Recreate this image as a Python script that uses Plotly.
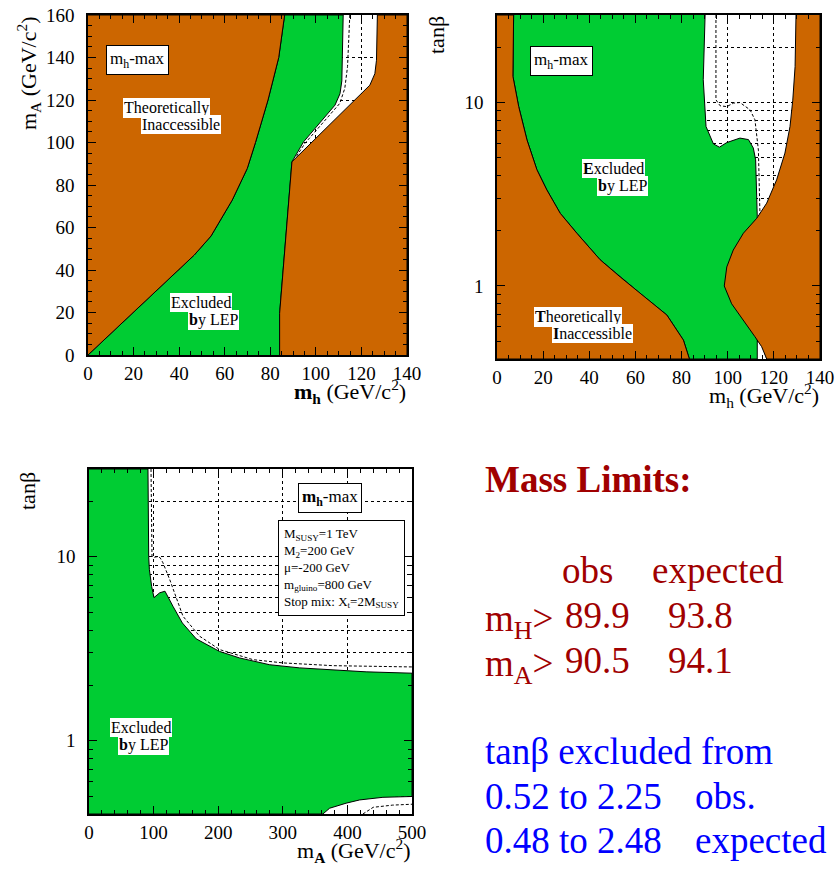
import plotly.graph_objects as go
import math

W, H = 839, 869
GREEN = "#00CC33"
BROWN = "#CC6600"
SERIF = "Liberation Serif"
RED = "#A00000"
BLUE = "#0000FF"

# ---------------- Panel 1: m_A vs m_h ----------------
p1_left_x = [0, 20, 40, 46.6, 54, 63.3, 69.9, 73.5, 79, 82.2, 83.7, 86.3]
p1_left_y = [0, 20, 40, 47, 56, 72.9, 87.8, 100, 120, 133, 140, 160]
p1_green_right_x = [112, 111.4, 110.6, 108.4, 94.6, 89.5, 84.1, 84.1]
p1_green_right_y = [160, 129, 123, 117.6, 100.3, 90.9, 19.6, 0]
p1_brown_right_x = [84.1, 84.1, 89.5, 123.7, 125.9, 126.6, 127]
p1_brown_right_y = [0, 19.6, 90.9, 127, 132.4, 138.7, 160]
p1_exp_x = [91.5, 95.2, 110.5, 112.7, 113.9, 114.9]
p1_exp_y = [93.5, 99.6, 118.4, 125.5, 135.7, 160]

# ---------------- Panel 2: tanb vs m_h ----------------
p2_left_x = [7.2, 6.9, 9.4, 13, 17.3, 21.6, 27.4, 34.6, 44.7, 53.4, 62, 73.6, 80.8, 83.4]
p2_left_y = [30, 13.9, 9.5, 6.25, 4.3, 3.34, 2.49, 1.94, 1.39, 1.12, 0.912, 0.695, 0.507, 0.4]
p2_green_right_x = [90.2, 89.4, 90.6, 93.8, 96.4, 99.6, 105.3, 109, 111.1, 112.1, 112.5, 112.8, 112.8]
p2_green_right_y = [30, 13.3, 7.4, 5.95, 5.71, 6.05, 6.4, 6.28, 5.65, 4.87, 3.63, 2.39, 0.4]
p2_brown_right_x = [129.6, 129.2, 128.2, 127, 124.8, 121.2, 116.9, 112.6, 106.8, 102.4, 99.6, 98.5,
                    101.7, 106.8, 111.8, 114.7, 116.9]
p2_brown_right_y = [30, 15.7, 10.3, 7.4, 5.3, 3.79, 2.83, 2.34, 1.94, 1.57, 1.27, 1.0,
                    0.80, 0.653, 0.529, 0.467, 0.4]
p2_exp_x = [94.9, 94.9, 96.7, 99.6, 102.5, 105.3, 109.7, 111.8, 113.3, 114, 114.3, 116.9]
p2_exp_y = [30, 10.35, 9.6, 9.5, 9.93, 10.0, 9.12, 8.05, 5.5, 2.39, 0.507, 0.4]

# ---------------- Panel 3: tanb vs m_A ----------------
p3_upper_x = [91.3, 92.4, 93.5, 97, 100.6, 109.4, 117.6, 130, 144.5, 166, 202, 233, 279.7, 326, 377.7, 429, 500]
p3_upper_y = [30, 10, 8.5, 6.9, 6.0, 6.37, 6.5, 5.38, 4.37, 3.58, 3.06, 2.82, 2.59, 2.49, 2.42, 2.37, 2.33]
p3_lower_x = [362, 372.5, 398, 419, 455, 500]
p3_lower_y = [0.4, 0.43, 0.458, 0.477, 0.493, 0.498]
p3_exp_up_x = [96, 96.5, 97.5, 100, 104, 110, 114.5, 124.9, 145.5, 171.3, 202.3, 253.9, 300.3, 377.7, 500]
p3_exp_up_y = [30, 12, 10.1, 9.9, 10.0, 9.9, 9.27, 7.53, 4.75, 3.7, 3.13, 2.76, 2.65, 2.56, 2.52]
p3_exp_lo_x = [424, 440, 470, 500]
p3_exp_lo_y = [0.4, 0.435, 0.447, 0.452]

# text
limits_title = "Mass Limits:"
limits_cols = ["obs", "expected"]
limits_rows = ["m<sub>H</sub>>", "m<sub>A</sub>>"]
limits_obs = ["89.9", "90.5"]
limits_exp = ["93.8", "94.1"]
tanb_lines = ["tanβ excluded from", "0.52 to 2.25", "0.48 to 2.48"]
tanb_tags = ["obs.", "expected"]

fig = go.Figure()


def poly(x, y, color, xa, ya):
    fig.add_trace(go.Scatter(x=x, y=y, mode="lines", fill="toself", fillcolor=color,
                             line=dict(color="black", width=1), xaxis=xa, yaxis=ya,
                             hoverinfo="skip", showlegend=False))


def dashed(x, y, xa, ya):
    fig.add_trace(go.Scatter(x=x, y=y, mode="lines", line=dict(color="black", width=1, dash="3px,2px"),
                             xaxis=xa, yaxis=ya, hoverinfo="skip", showlegend=False))


# Panel 1
dashed(p1_exp_x, p1_exp_y, "x", "y")
poly(p1_left_x + p1_green_right_x, p1_left_y + p1_green_right_y, GREEN, "x", "y")
poly([0] + p1_left_x + [0], [0] + p1_left_y + [160], BROWN, "x", "y")
poly(p1_brown_right_x + [140, 140], p1_brown_right_y + [160, 0], BROWN, "x", "y")

# Panel 2
dashed(p2_exp_x, p2_exp_y, "x2", "y2")
poly(p2_left_x + p2_green_right_x[::-1], p2_left_y + p2_green_right_y[::-1], GREEN, "x2", "y2")
poly([0] + p2_left_x + [0], [30] + p2_left_y + [0.4], BROWN, "x2", "y2")
poly(p2_brown_right_x + [140, 140], p2_brown_right_y + [0.4, 30], BROWN, "x2", "y2")

# Panel 3
dashed(p3_exp_up_x, p3_exp_up_y, "x3", "y3")
dashed(p3_exp_lo_x, p3_exp_lo_y, "x3", "y3")
poly([0] + p3_upper_x + p3_lower_x[::-1] + [0],
     [30] + p3_upper_y + p3_lower_y[::-1] + [0.4], GREEN, "x3", "y3")


def px(x):
    return x / W


def py(y):
    return 1 - y / H


tickfont = dict(family=SERIF, size=19, color="black")
common = dict(showline=True, linecolor="black", linewidth=1.5, mirror="allticks",
              ticks="inside", ticklen=8, tickwidth=1, tickcolor="black",
              showgrid=True, gridcolor="black", griddash="dot", gridwidth=1,
              zeroline=False, tickfont=tickfont, layer="above traces", automargin=False)

minor_lin = lambda d: dict(dtick=d, ticks="inside", ticklen=4, tickcolor="black", showgrid=False)
log_minor_vals = [0.4, 0.5, 0.6, 0.7, 0.8, 0.9, 2, 3, 4, 5, 6, 7, 8, 9, 20, 30]
minor_log = dict(tickmode="array", tickvals=log_minor_vals, ticks="inside", ticklen=4,
                 tickcolor="black", showgrid=True, gridcolor="black", griddash="dot", gridwidth=1)
log_range = [math.log10(0.4), math.log10(30)]

fig.update_layout(
    width=W, height=H, margin=dict(l=0, r=0, t=0, b=0, pad=0), autosize=False,
    paper_bgcolor="white", plot_bgcolor="white", showlegend=False,
    xaxis=dict(domain=[px(88), px(407)], range=[0, 140], dtick=20, tick0=0,
               minor=minor_lin(5), anchor="y", **common),
    yaxis=dict(domain=[py(355), py(15)], range=[0, 160], dtick=20, tick0=0,
               minor=minor_lin(5), anchor="x", ticklabelstandoff=8, **common),
    xaxis2=dict(domain=[px(497), px(820)], range=[0, 140], dtick=20, tick0=0,
                minor=minor_lin(5), anchor="y2", **common),
    yaxis2=dict(domain=[py(359), py(15)], type="log", range=log_range, tickmode="array",
                tickvals=[1, 10], ticktext=["1", "10"], minor=minor_log, anchor="x2",
                ticklabelstandoff=8, **common),
    xaxis3=dict(domain=[px(89), px(412)], range=[0, 500], dtick=100, tick0=0,
                minor=minor_lin(20), anchor="y3", **common),
    yaxis3=dict(domain=[py(814), py(469)], type="log", range=log_range, tickmode="array",
                tickvals=[1, 10], ticktext=["1", "10"], minor=minor_log, anchor="x3",
                ticklabelstandoff=8, **common),
)

ann = []


def label(text, cx, cy, size=16, border=False, align="center", xanchor="center", angle=0, color="black",
          bg="white", pad=1):
    ann.append(dict(text=text, x=px(cx), y=py(cy), xref="paper", yref="paper", showarrow=False,
                    xanchor=xanchor, yanchor="middle", align=align, textangle=angle,
                    font=dict(family=SERIF, size=size, color=color),
                    bgcolor=bg, bordercolor="black" if border else "rgba(0,0,0,0)",
                    borderwidth=1 if border else 0, borderpad=pad))


# Panel 1 labels
label("m<sub>h</sub>-max", 137.5, 60, size=17, border=True, pad=3)
label("Theoretically", 166, 108)
label("Inaccessible", 181, 125)
label("Excluded", 201, 303)
label("<b>b</b>y LEP", 213, 320)
# Panel 2 labels
label("m<sub>h</sub>-max", 561, 60.5, size=17, border=True, pad=3)
label("<b>E</b>xcluded", 613, 168.5)
label("<b>b</b>y LEP", 622.5, 185.5)
label("<b>T</b>heoretically", 577.5, 316.5)
label("<b>I</b>naccessible", 592, 333.5)
# Panel 3 labels
label("<b>m<sub>h</sub></b>-max", 330, 498, size=17, border=True, pad=3)
label("M<sub>SUSY</sub>=1 TeV<br>M<sub>2</sub>=200 GeV<br>μ=-200 GeV<br>m<sub>gluino</sub>=800 GeV<br>"
      "Stop mix: X<sub>t</sub>=2M<sub>SUSY</sub>", 341.5, 567.5, size=13, border=True, align="left", pad=5)
label("Excluded", 141, 727)
label("<b>b</b>y LEP", 143, 744.5)

# Axis titles
AT = 22
NB = "rgba(0,0,0,0)"
label("<b>m<sub>h</sub></b> (GeV/c<sup>2</sup>)", 407, 391, size=AT, xanchor="right", bg=NB)
label("m<sub>A</sub> (GeV/c<sup>2</sup>)", 28, 73, size=AT, angle=-90, bg=NB)
label("tanβ", 437, 35, size=AT, angle=-90, bg=NB)
label("m<sub>h</sub> (GeV/c<sup>2</sup>)", 820, 395, size=AT, xanchor="right", bg=NB)
label("tanβ", 27, 491, size=AT, angle=-90, bg=NB)
label("m<sub><b>A</b></sub> (GeV/c<sup>2</sup>)", 412, 850, size=AT, xanchor="right", bg=NB)

# Right-side text
TS = 37
label("<b>" + limits_title + "</b>", 485, 480, size=TS, xanchor="left", color=RED, bg=NB, pad=0)
label(limits_cols[0], 562, 570, size=TS, xanchor="left", color=RED, bg=NB, pad=0)
label(limits_cols[1], 652, 570, size=TS, xanchor="left", color=RED, bg=NB, pad=0)
for i, cy in enumerate([615, 660]):
    label(limits_rows[i], 485, cy + 6, size=TS, xanchor="left", color=RED, bg=NB, pad=0)
    label(limits_obs[i], 565, cy, size=TS, xanchor="left", color=RED, bg=NB, pad=0)
    label(limits_exp[i], 668, cy, size=TS, xanchor="left", color=RED, bg=NB, pad=0)
label(tanb_lines[0], 485, 751, size=TS, xanchor="left", color=BLUE, bg=NB, pad=0)
label(tanb_lines[1], 485, 796, size=TS, xanchor="left", color=BLUE, bg=NB, pad=0)
label(tanb_tags[0], 695, 796, size=TS, xanchor="left", color=BLUE, bg=NB, pad=0)
label(tanb_lines[2], 485, 840, size=TS, xanchor="left", color=BLUE, bg=NB, pad=0)
label(tanb_tags[1], 695, 840, size=TS, xanchor="left", color=BLUE, bg=NB, pad=0)

fig.update_layout(annotations=ann)
fig.write_html("out.html", config={"displayModeBar": False},
               post_script="document.body.style.margin='0';document.body.style.overflow='hidden';")
